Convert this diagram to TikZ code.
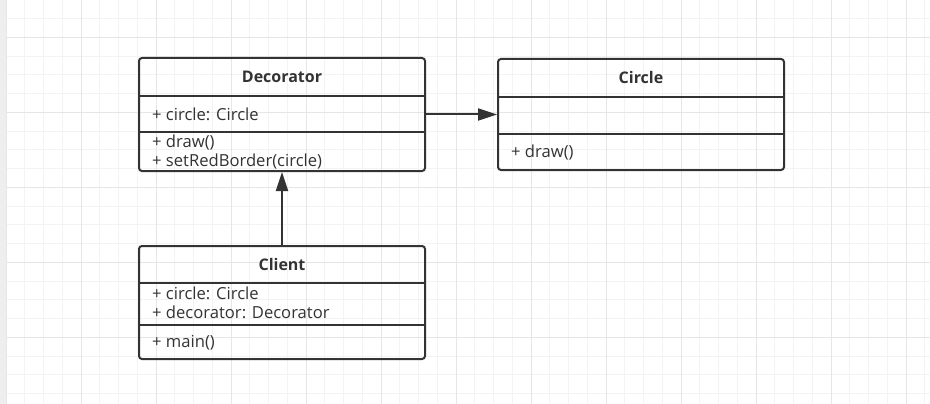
\documentclass[tikz,border=0pt]{standalone}
\usepackage{fontspec}
\setmainfont{Open Sans}
\usetikzlibrary{arrows.meta}
\definecolor{umlline}{HTML}{333333}
\definecolor{gridminor}{HTML}{F3F3F3}
\definecolor{gridmajor}{HTML}{E6E6E6}
\definecolor{sidebar}{HTML}{EEEEEE}
\tikzset{
  umlbox/.style = {draw=umlline, line width=2pt, rounded corners=3pt,
    minimum width=286pt, inner sep=0pt},% class frame
  umltitle/.style = {font=\fontsize{16}{18}\selectfont\bfseries,
    text=umlline, inner sep=0pt},% class name
  umlitem/.style = {font=\fontsize{16.6}{18}\selectfont, text=umlline,
    anchor=west, inner sep=0pt},% attribute or operation
  umlsep/.style = {draw=umlline, line width=2pt},% compartment line
  umlarrow/.style = {draw=umlline, line width=2pt,
    -{Triangle[length=19pt, width=12pt]}}% association
}

\begin{document}
\begin{tikzpicture}[x=1pt, y=-1pt]
\useasboundingbox (0,0) rectangle (930,404);
% grid
\fill[white] (0,0) rectangle (930,404);
\foreach \gx in {6,24.75,...,930} \draw[gridminor, line width=1pt] (\gx,0) -- (\gx,404);
\foreach \gy in {-0.2,18.55,...,404} \draw[gridminor, line width=1pt] (0,\gy) -- (930,\gy);
\foreach \gx in {6,81,...,930} \draw[gridmajor, line width=1pt] (\gx,0) -- (\gx,404);
\foreach \gy in {37.3,112.3,...,404} \draw[gridmajor, line width=1pt] (0,\gy) -- (930,\gy);
\fill[sidebar] (0,0) rectangle (6,404);

% Decorator
\node[umlbox, minimum height=113pt] (dec) at (282,114.5) {};
\node[umltitle] (dec_name) at (282,77) {Decorator};
\draw[umlsep] (dec.west |- 0,96) -- (dec.east |- 0,96);
\draw[umlsep] (dec.west |- 0,132) -- (dec.east |- 0,132);
\node[umlitem] (dec_attr) at (152,114) {+ circle: Circle};
\node[umlitem] (dec_op1) at (152,143) {+ draw()};
\node[umlitem] (dec_op2) at (152,162) {+ setRedBorder(circle)};

% Circle
\node[umlbox, minimum height=111pt] (cir) at (641,114.5) {};
\node[umltitle] (cir_name) at (641,78) {Circle};
\draw[umlsep] (cir.west |- 0,97) -- (cir.east |- 0,97);
\draw[umlsep] (cir.west |- 0,134) -- (cir.east |- 0,134);
\node[umlitem] (cir_op1) at (511,153) {+ draw()};

% Client
\node[umlbox, minimum height=113pt] (cli) at (282,302.5) {};
\node[umltitle] (cli_name) at (282,264) {Client};
\draw[umlsep] (cli.west |- 0,283) -- (cli.east |- 0,283);
\draw[umlsep] (cli.west |- 0,325) -- (cli.east |- 0,325);
\node[umlitem] (cli_attr1) at (152,293) {+ circle: Circle};
\node[umlitem] (cli_attr2) at (152,312) {+ decorator: Decorator};
\node[umlitem] (cli_op1) at (152,343) {+ main()};

% associations
\draw[umlarrow] (dec.east) -- (cir.west);
\draw[umlarrow] (cli.north) -- (dec.south);
\end{tikzpicture}
\end{document}
